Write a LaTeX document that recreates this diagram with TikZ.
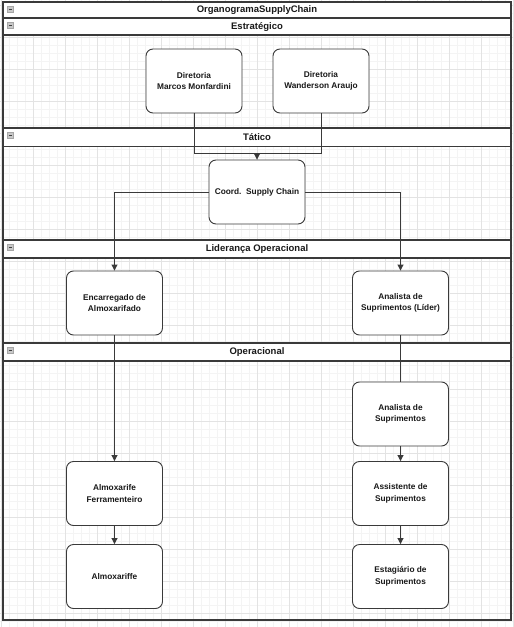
\documentclass[tikz,border=0pt]{standalone}
\usepackage{fontspec}
\setmainfont{Liberation Sans}
\usetikzlibrary{arrows.meta}
\definecolor{minorgrid}{HTML}{F4F4F4}
\definecolor{majorgrid}{HTML}{E3E3E3}
\definecolor{frame}{HTML}{3A3A3A}
\definecolor{iconfill}{HTML}{C8C8C8}
\tikzset{
  rolebox/.style={draw=frame, line width=0.9pt, fill=white, rounded corners=7pt,
    minimum width=96pt, minimum height=64pt, align=center,
    font=\fontsize{8.3}{11.6}\selectfont\bfseries, text=black!90, inner sep=1pt},
  lanetitle/.style={font=\fontsize{9.5}{11}\selectfont\bfseries, text=black!90, inner sep=0pt},
  laneline/.style={draw=frame, line width=1.2pt},
  conn/.style={draw=frame, line width=0.9pt},
  arr/.style={conn, -{Triangle[width=6pt,length=6pt]}},
}
\newcommand{\laneicon}[1]{%
  \fill[iconfill, draw=gray!70] (7.5,#1+4.5) rectangle (13.5,#1+10);
  \draw[black!75, line width=0.9pt] (8.7,#1+7.25) -- (12.3,#1+7.25);}
\begin{document}
\begin{tikzpicture}[x=1pt,y=-1pt]
\useasboundingbox (0,0) rectangle (514,627);
\fill[white] (0,0) rectangle (514,627);
% grid
\foreach \x in {1,9,...,513} \draw[minorgrid, line width=0.5pt] (\x,0) -- (\x,627);
\foreach \y in {5,13,...,627} \draw[minorgrid, line width=0.5pt] (0,\y) -- (514,\y);
\foreach \x in {1,33,...,513} \draw[majorgrid, line width=0.6pt] (\x,0) -- (\x,627);
\foreach \y in {5,37,...,627} \draw[majorgrid, line width=0.6pt] (0,\y) -- (514,\y);
% lane headers
\fill[white] (3,2) rectangle (511,35);
\fill[white] (3,128) rectangle (511,146.5);
\fill[white] (3,240) rectangle (511,258);
\fill[white] (3,343) rectangle (511,361);
\foreach \y in {18,35,128,146.5,240,258,343,361}
  \draw[laneline] (3,\y) -- (511,\y);
\draw[laneline] (3,2) rectangle (511,620);
\laneicon{2}\laneicon{18}\laneicon{128}\laneicon{240}\laneicon{343}
\node[lanetitle] (t0) at (257,10.5) {OrganogramaSupplyChain};
\node[lanetitle] (t1) at (257,26.8) {Estratégico};
\node[lanetitle] (t2) at (257,137.3) {Tático};
\node[lanetitle] (t3) at (257,249.3) {Liderança Operacional};
\node[lanetitle] (t4) at (257,352.3) {Operacional};
% boxes
\node[rolebox] (dmm) at (194,81) {Diretoria\\Marcos Monfardini};
\node[rolebox] (dwa) at (321,81) {Diretoria\\Wanderson Araujo};
\node[rolebox] (coord) at (257,192) {Coord.\ \ Supply Chain};
\node[rolebox] (enc) at (114.5,303) {Encarregado de\\Almoxarifado};
\node[rolebox] (alid) at (400.5,303) {Analista de\\Suprimentos (Líder)};
\node[rolebox] (asup) at (400.5,414) {Analista de\\Suprimentos};
\node[rolebox] (assist) at (400.5,493.5) {Assistente de\\Suprimentos};
\node[rolebox] (estag) at (400.5,576.5) {Estagiário de\\Suprimentos};
\node[rolebox] (almf) at (114.5,493.5) {Almoxarife\\Ferramenteiro};
\node[rolebox] (almx) at (114.5,576.5) {Almoxariffe};
% connectors
\coordinate (j) at (257,153);
\draw[conn] (dmm.south) |- (j);
\draw[conn] (dwa.south) |- (j);
\draw[arr] (j) -- (coord.north);
\draw[arr] (coord.west) -| (enc.north);
\draw[arr] (coord.east) -| (alid.north);
\draw[arr] (enc.south) -- (almf.north);
\draw[arr] (almf.south) -- (almx.north);
\draw[conn] (alid.south) -- (asup.north);
\draw[arr] (asup.south) -- (assist.north);
\draw[arr] (assist.south) -- (estag.north);
\end{tikzpicture}
\end{document}
